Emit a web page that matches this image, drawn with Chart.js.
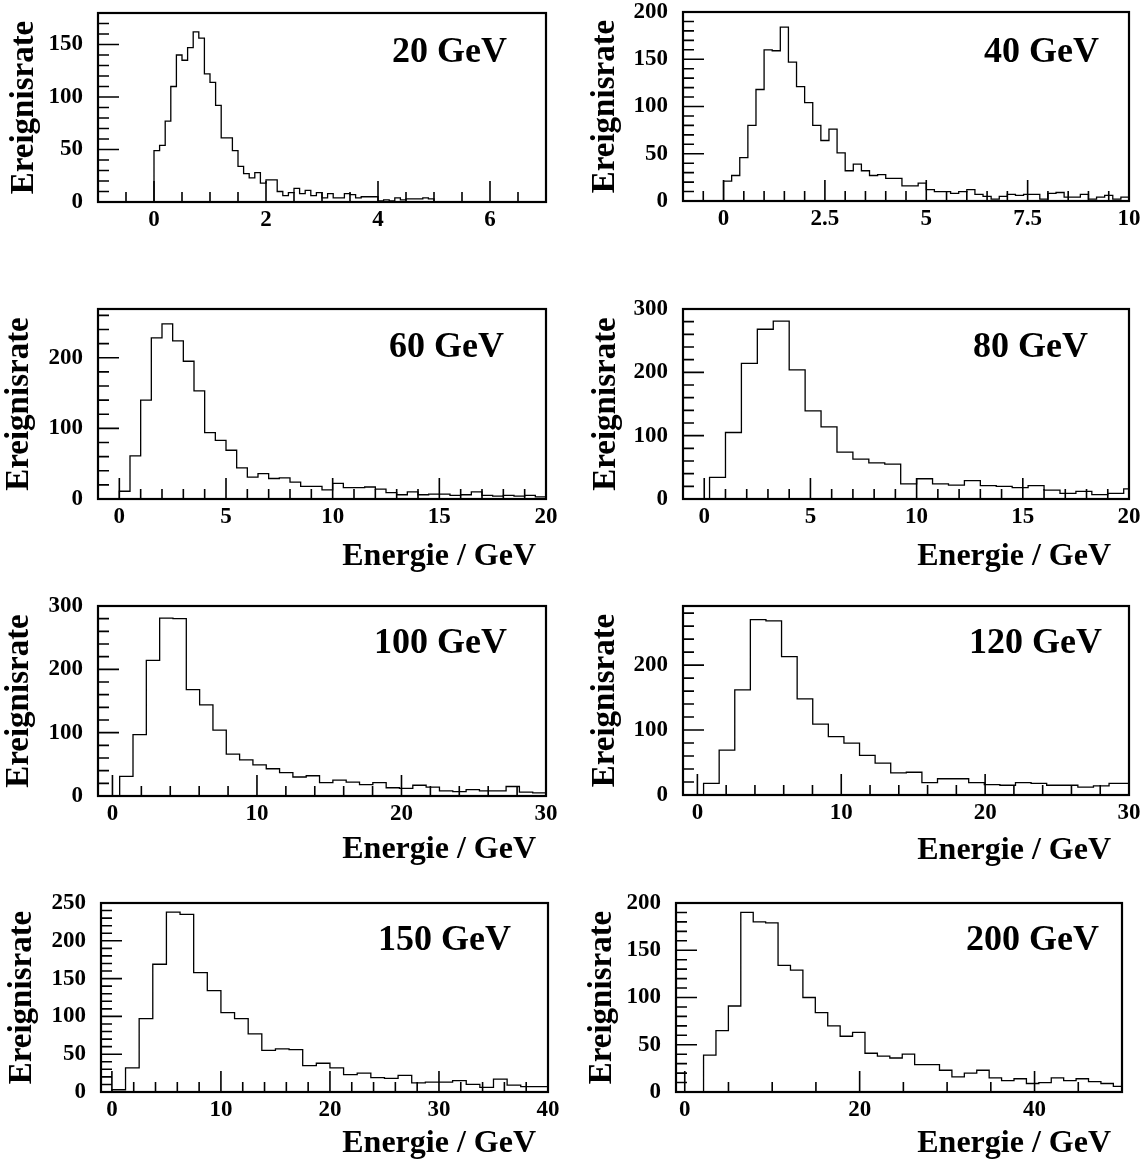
<!DOCTYPE html>
<html>
<head>
<meta charset="utf-8">
<script src="https://cdn.jsdelivr.net/npm/chart.js@4.4.1/dist/chart.umd.min.js"></script>
<style>
  body { margin: 0; background: #fff; }
  #page { position: relative; width: 1146px; height: 1161px; overflow: hidden; }
  canvas { position: absolute; }
</style>
</head>
<body>
<div id="page"></div>
<script>
// events per bin
const counts20 = [49, 54, 77, 110, 140, 135, 147, 162, 156, 122, 114, 92, 61, 61, 49, 34, 27, 23, 28, 18,
  21, 21, 10, 6, 9, 13, 8, 11, 6, 9, 4, 8, 4, 4, 8, 7, 4, 5, 5, 5, 1, 2, 1, 4, 2, 3, 3, 3, 4, 3];
const counts40 = [21, 27, 46, 80, 118, 160, 159, 184, 147, 121, 104, 80, 64, 76, 51, 32, 39, 32, 27, 28,
  24, 24, 16, 16, 19, 12, 10, 10, 8, 10, 12, 7, 5, 2, 5, 7, 6, 7, 7, 2, 8, 9, 4, 4, 7, 2, 4, 6, 2, 4];
const counts60 = [11, 61, 140, 228, 248, 224, 195, 153, 94, 83, 69, 44, 31, 36, 29, 30, 24, 18, 18, 13,
  22, 16, 16, 17, 14, 9, 6, 10, 6, 7, 7, 5, 6, 10, 5, 4, 5, 4, 5, 3];
const counts80 = [34, 105, 214, 268, 281, 204, 139, 114, 74, 63, 57, 55, 24, 32, 24, 22, 29, 21, 20, 18,
  21, 14, 9, 12, 7, 9, 16];
const counts100 = [31, 97, 214, 281, 280, 168, 144, 104, 66, 57, 49, 43, 37, 30, 32, 21, 25, 22, 18, 21,
  13, 12, 17, 14, 8, 7, 10, 8, 8, 15, 6, 5];
const counts120 = [18, 69, 162, 270, 268, 213, 148, 109, 90, 80, 61, 49, 34, 35, 19, 25, 25, 19, 16, 15,
  19, 18, 15, 15, 12, 14, 18, 18];
const counts150 = [3, 32, 97, 169, 238, 235, 158, 134, 105, 97, 77, 55, 57, 56, 35, 38, 32, 23, 25, 19,
  18, 22, 12, 13, 13, 15, 10, 6, 17, 9, 7, 7];
const counts200 = [39, 65, 91, 190, 180, 179, 134, 129, 100, 84, 70, 59, 63, 41, 38, 36, 40, 29, 29, 23,
  16, 20, 23, 15, 12, 14, 9, 10, 15, 12, 14, 11, 9, 6];

// binning: lower edge of first bin, bin width (GeV)
const bins20 = [0, 0.1];
const bins40 = [0, 0.2];
const bins60 = [0, 0.5];
const bins80 = [0.25, 0.75];
const bins100 = [0.5, 0.922];
const bins120 = [0.43, 1.084];
const bins150 = [0, 1.25];
const bins200 = [2.15, 1.42];

// axis ranges and tick labels
const xRange20 = [-1, 7], yRange20 = [0, 180];
const xRange40 = [-1, 10], yRange40 = [0, 200];
const xRange60 = [-1, 20], yRange60 = [0, 269];
const xRange80 = [-1, 20], yRange80 = [0, 300];
const xRange100 = [-1, 30], yRange100 = [0, 300];
const xRange120 = [-1, 30], yRange120 = [0, 291];
const xRange150 = [-1, 40], yRange150 = [0, 250];
const xRange200 = [-1, 50], yRange200 = [0, 200];

const xTicks20 = [0, 2, 4, 6], yTicks20 = [0, 50, 100, 150];
const xTicks40 = [0, 2.5, 5, 7.5, 10], yTicks40 = [0, 50, 100, 150, 200];
const xTicks60 = [0, 5, 10, 15, 20], yTicks60 = [0, 100, 200];
const xTicks80 = [0, 5, 10, 15, 20], yTicks80 = [0, 100, 200, 300];
const xTicks100 = [0, 10, 20, 30], yTicks100 = [0, 100, 200, 300];
const xTicks120 = [0, 10, 20, 30], yTicks120 = [0, 100, 200];
const xTicks150 = [0, 10, 20, 30, 40], yTicks150 = [0, 50, 100, 150, 200, 250];
const xTicks200 = [0, 20, 40], yTicks200 = [0, 50, 100, 150, 200];

const labels = ['20 GeV', '40 GeV', '60 GeV', '80 GeV', '100 GeV', '120 GeV', '150 GeV', '200 GeV'];

// page layout: cell = [x, y, w, h], frame = [left, top, right, bottom]
const panels = [
  { counts: counts20, bins: bins20, xr: xRange20, yr: yRange20, xt: xTicks20, yt: yTicks20, xMinor: 0.5, yMinor: 10,
    cell: [0, 0, 573, 290], frame: [98, 13, 546, 202], lab: [39, 49], xTitle: null, yTitleX: 33 },
  { counts: counts40, bins: bins40, xr: xRange40, yr: yRange40, xt: xTicks40, yt: yTicks40, xMinor: 0.5, yMinor: 10,
    cell: [573, 0, 573, 290], frame: [683, 12, 1129, 201], lab: [30, 50], xTitle: null, yTitleX: 614 },
  { counts: counts60, bins: bins60, xr: xRange60, yr: yRange60, xt: xTicks60, yt: yTicks60, xMinor: 1, yMinor: 20,
    cell: [0, 290, 573, 300], frame: [98, 309, 546, 499], lab: [42, 48], xTitle: [10, 66], yTitleX: 28 },
  { counts: counts80, bins: bins80, xr: xRange80, yr: yRange80, xt: xTicks80, yt: yTicks80, xMinor: 1, yMinor: 20,
    cell: [573, 290, 573, 300], frame: [683, 309, 1129, 499], lab: [41, 48], xTitle: [18, 66], yTitleX: 615 },
  { counts: counts100, bins: bins100, xr: xRange100, yr: yRange100, xt: xTicks100, yt: yTicks100, xMinor: 2, yMinor: 20,
    cell: [0, 590, 573, 290], frame: [98, 606, 546, 796], lab: [39, 47], xTitle: [10, 62], yTitleX: 28 },
  { counts: counts120, bins: bins120, xr: xRange120, yr: yRange120, xt: xTicks120, yt: yTicks120, xMinor: 2, yMinor: 20,
    cell: [573, 590, 573, 290], frame: [683, 606, 1129, 795], lab: [27, 47], xTitle: [18, 64], yTitleX: 614 },
  { counts: counts150, bins: bins150, xr: xRange150, yr: yRange150, xt: xTicks150, yt: yTicks150, xMinor: 2, yMinor: 10,
    cell: [0, 880, 573, 281], frame: [101, 903, 548, 1092], lab: [37, 47], xTitle: [12, 60], yTitleX: 31 },
  { counts: counts200, bins: bins200, xr: xRange200, yr: yRange200, xt: xTicks200, yt: yTicks200, xMinor: 5, yMinor: 10,
    cell: [573, 880, 573, 281], frame: [676, 903, 1122, 1092], lab: [23, 47], xTitle: [11, 60], yTitleX: 611 }
];

const SERIF = '"Liberation Serif", "Times New Roman", serif';

// histogram outline as step points (bin edges)
function stepPoints(counts, bins) {
  const [lo, w] = bins;
  const pts = [{ x: lo, y: 0 }];
  counts.forEach((c, i) => pts.push({ x: lo + i * w, y: c }));
  pts.push({ x: lo + counts.length * w, y: 0 });
  return pts;
}

function isMajor(list, v) {
  return list.some(t => Math.abs(t - v) < 1e-6);
}

// ROOT style frame, inward ticks and the panel texts
function rootFrame(p, label) {
  return {
    id: 'rootFrame',
    afterDraw(chart) {
      const { ctx, chartArea: a } = chart;
      const sx = chart.scales.x, sy = chart.scales.y;
      ctx.save();
      ctx.strokeStyle = '#000';
      ctx.lineWidth = 1.6;
      ctx.beginPath();
      for (let n = Math.ceil(p.xr[0] / p.xMinor - 1e-9); n * p.xMinor <= p.xr[1] + 1e-9; n++) {
        const v = n * p.xMinor;
        const px = sx.getPixelForValue(v);
        ctx.moveTo(px, a.bottom);
        ctx.lineTo(px, a.bottom - (isMajor(p.xt, v) ? 21 : 10));
      }
      for (let n = Math.ceil(p.yr[0] / p.yMinor - 1e-9); n * p.yMinor <= p.yr[1] + 1e-9; n++) {
        const v = n * p.yMinor;
        const py = sy.getPixelForValue(v);
        ctx.moveTo(a.left, py);
        ctx.lineTo(a.left + (isMajor(p.yt, v) ? 21 : 11), py);
      }
      ctx.stroke();
      ctx.lineWidth = 2.2;
      ctx.strokeRect(a.left, a.top, a.right - a.left, a.bottom - a.top);

      ctx.fillStyle = '#000';
      ctx.textBaseline = 'alphabetic';
      ctx.textAlign = 'right';
      ctx.font = 'bold 36px ' + SERIF;
      ctx.fillText(label, a.right - p.lab[0], a.top + p.lab[1]);
      if (p.xTitle) {
        ctx.font = 'bold 32px ' + SERIF;
        ctx.fillText('Energie / GeV', a.right - p.xTitle[0], a.bottom + p.xTitle[1]);
      }
      ctx.translate(p.yTitleX - p.cell[0], (a.top + a.bottom) / 2);
      ctx.rotate(-Math.PI / 2);
      ctx.textAlign = 'center';
      ctx.font = 'bold 33px ' + SERIF;
      ctx.fillText('Ereignisrate', 0, 0);
      ctx.restore();
    }
  };
}

const page = document.getElementById('page');

panels.forEach((p, i) => {
  const [cx, cy, cw, ch] = p.cell;
  const [fl, ft, fr, fb] = p.frame;
  const canvas = document.createElement('canvas');
  canvas.width = cw;
  canvas.height = ch;
  canvas.style.left = cx + 'px';
  canvas.style.top = cy + 'px';
  canvas.style.width = cw + 'px';
  canvas.style.height = ch + 'px';
  page.appendChild(canvas);

  const tickFont = { family: SERIF, weight: 'bold', size: 23 };

  new Chart(canvas, {
    type: 'line',
    data: {
      datasets: [{
        data: stepPoints(p.counts, p.bins),
        stepped: 'before',
        borderColor: '#000',
        borderWidth: 1.3,
        pointRadius: 0,
        fill: false
      }]
    },
    options: {
      responsive: false,
      animation: false,
      events: [],
      layout: { autoPadding: false, padding: { left: 0, top: ft - cy, right: cx + cw - fr, bottom: 0 } },
      plugins: { legend: { display: false }, tooltip: { enabled: false } },
      scales: {
        x: {
          type: 'linear',
          min: p.xr[0],
          max: p.xr[1],
          grid: { display: false, drawTicks: false },
          border: { display: false },
          afterBuildTicks: s => { s.ticks = p.xt.map(v => ({ value: v })); },
          afterFit: s => { s.height = cy + ch - fb; s.paddingLeft = 0; s.paddingRight = 0; },
          ticks: { autoSkip: false, maxRotation: 0, padding: 4, color: '#000', font: tickFont,
                   callback: v => String(v) }
        },
        y: {
          min: p.yr[0],
          max: p.yr[1],
          grid: { display: false, drawTicks: false },
          border: { display: false },
          afterBuildTicks: s => { s.ticks = p.yt.map(v => ({ value: v })); },
          afterFit: s => { s.width = fl - cx; s.paddingTop = 0; s.paddingBottom = 0; },
          ticks: { autoSkip: false, padding: 15, color: '#000', font: tickFont,
                   callback: v => String(v) }
        }
      }
    },
    plugins: [rootFrame(p, labels[i])]
  });
});
</script>
</body>
</html>
